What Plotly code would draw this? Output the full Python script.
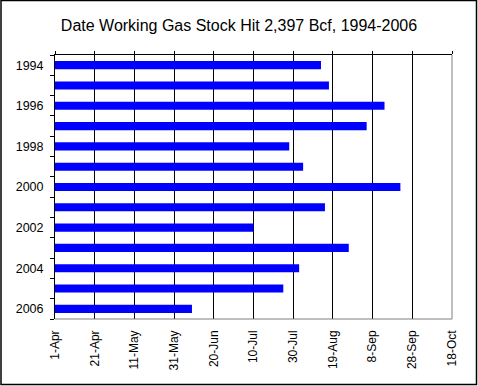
import pandas as pd
import plotly.graph_objects as go

years = [1994, 1995, 1996, 1997, 1998, 1999, 2000, 2001, 2002, 2003, 2004, 2005, 2006]
hit_dates = ["08-13", "08-17", "09-14", "09-05", "07-28", "08-04", "09-22",
             "08-15", "07-10", "08-27", "08-02", "07-25", "06-09"]
x_tick_labels = ["1-Apr", "21-Apr", "11-May", "31-May", "20-Jun", "10-Jul",
                 "30-Jul", "19-Aug", "8-Sep", "28-Sep", "18-Oct"]
y_tick_years = [1994, 1996, 1998, 2000, 2002, 2004, 2006]

days = [(pd.Timestamp(f"{y}-{d}") - pd.Timestamp(f"{y}-04-01")).days
        for y, d in zip(years, hit_dates)]

W, H = 478, 386
ml, mr, mt, mb = 55, 26, 55, 67
pw, ph = W - ml - mr, H - mt - mb

fig = go.Figure(go.Bar(
    x=days, y=years, orientation="h", width=0.4,
    marker=dict(color="#0000FF", line=dict(width=0)),
))

fig.update_layout(
    width=W, height=H,
    margin=dict(l=ml, r=mr, t=mt, b=mb),
    paper_bgcolor="white", plot_bgcolor="white",
    font=dict(family="Arial, Liberation Sans", size=12, color="black"),
    title=dict(text="Date Working Gas Stock Hit 2,397 Bcf, 1994-2006",
               x=0.5, xanchor="center", y=1 - 25 / H, yanchor="middle",
               font=dict(size=16, color="black")),
    showlegend=False,
    bargap=0.6,
    xaxis=dict(range=[0, 200], tickmode="array",
               tickvals=list(range(0, 201, 20)), ticktext=x_tick_labels,
               tickangle=-90, showgrid=True, gridcolor="black", gridwidth=1,
               zeroline=False, showline=False, ticks="", ticklen=0,
               ticklabelstandoff=8),
    xaxis2=dict(range=[0, 200], overlaying="x", side="top", matches="x",
                tickmode="array", tickvals=list(range(0, 201, 20)),
                showticklabels=False, ticks="outside", ticklen=3,
                tickcolor="black", showgrid=False, zeroline=False,
                showline=True, linecolor="black", linewidth=1),
    yaxis=dict(range=[2006.5, 1993.5], tickmode="array",
               tickvals=y_tick_years, ticktext=[str(y) for y in y_tick_years],
               showgrid=False, zeroline=False, showline=True,
               linecolor="black", linewidth=1, ticks="", ticklabelstandoff=8,
               tickfont=dict(size=12.5),
               minor=dict(tick0=0.5, dtick=1, ticks="outside", ticklen=4,
                          tickcolor="black", showgrid=False)),
)

# invisible trace to activate the top axis
fig.add_trace(go.Scatter(x=[0], y=[2000], xaxis="x2", mode="markers",
                         marker=dict(opacity=0), hoverinfo="skip"))

# grey plot-area border on bottom and right
fig.add_shape(type="line", xref="paper", yref="paper", x0=0, x1=1, y0=0, y1=0,
              line=dict(color="#808080", width=1))
fig.add_shape(type="line", xref="paper", yref="paper", x0=1, x1=1, y0=0, y1=1,
              line=dict(color="#808080", width=1))
# outer chart border
fig.add_shape(type="rect", xref="paper", yref="paper",
              x0=(-ml + 1) / pw, x1=(pw + mr - 1.5) / pw,
              y0=(-mb + 1.5) / ph, y1=(ph + mt - 0.5) / ph,
              line=dict(color="black", width=1.5), layer="above")

fig.write_html("out.html", config={"displayModeBar": False},
               post_script="document.body.style.margin='0';document.body.style.overflow='hidden';")
